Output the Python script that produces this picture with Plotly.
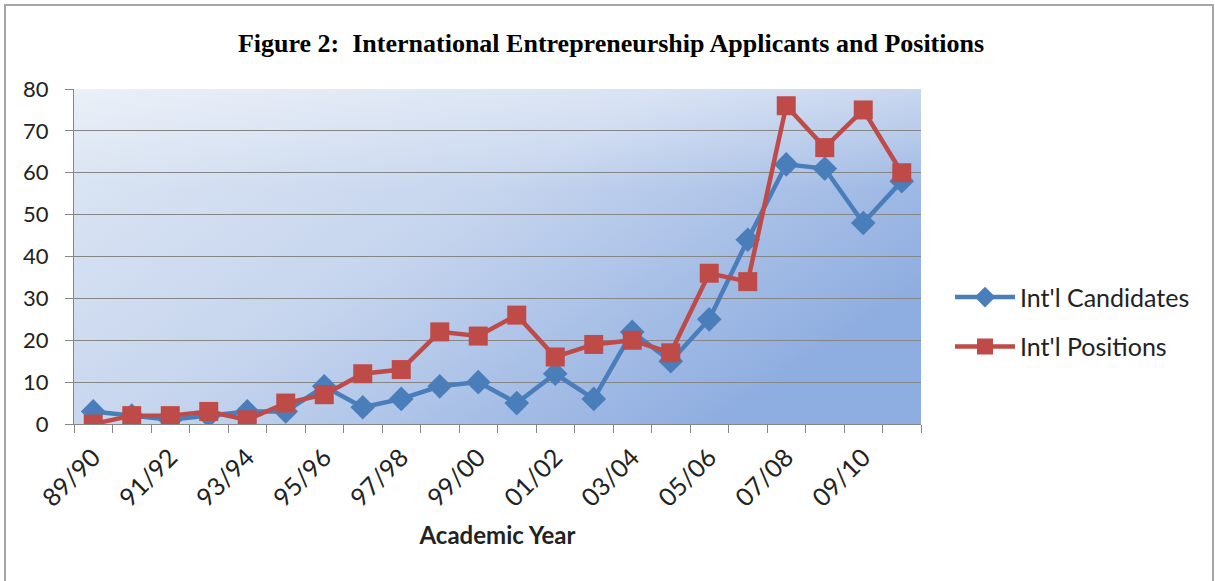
import base64
import plotly.graph_objects as go

years = ["89/90", "90/91", "91/92", "92/93", "93/94", "94/95", "95/96", "96/97",
         "97/98", "98/99", "99/00", "00/01", "01/02", "02/03", "03/04", "04/05",
         "05/06", "06/07", "07/08", "08/09", "09/10", "10/11"]
candidates = [3, 2, 1, 2, 3, 3, 9, 4, 6, 9, 10, 5, 12, 6, 22, 15, 25, 44, 62, 61, 48, 58]
positions = [0, 2, 2, 3, 1, 5, 7, 12, 13, 22, 21, 26, 16, 19, 20, 17, 36, 34, 76, 66, 75, 60]
y_ticks = [0, 10, 20, 30, 40, 50, 60, 70, 80]

W, H = 1215, 581
L, R, T, B = 74, 294, 89, 157
pw, ph = W - L - R, H - T - B

idx = list(range(len(years)))
shown = idx[::2]

svg = (
    '<svg xmlns="http://www.w3.org/2000/svg" width="100" height="100" viewBox="0 0 100 100" preserveAspectRatio="none">'
    '<defs>'
    '<linearGradient id="g" x1="0" y1="0" x2="1" y2="0.6">'
    '<stop offset="0" stop-color="#dfe8f4"/>'
    '<stop offset="0.5" stop-color="#c6d5ee"/>'
    '<stop offset="1" stop-color="#8eade0"/>'
    '</linearGradient>'
    '<linearGradient id="h" x1="0" y1="1" x2="0" y2="0">'
    '<stop offset="0" stop-color="#ffffff" stop-opacity="0"/>'
    '<stop offset="0.7" stop-color="#ffffff" stop-opacity="0"/>'
    '<stop offset="1" stop-color="#ffffff" stop-opacity="0.35"/>'
    '</linearGradient>'
    '</defs>'
    '<rect x="0" y="0" width="100" height="100" fill="url(#g)"/>'
    '<rect x="0" y="0" width="100" height="100" fill="url(#h)"/>'
    '</svg>'
)
svg_uri = "data:image/svg+xml;base64," + base64.b64encode(svg.encode()).decode()

fig = go.Figure()
fig.add_trace(go.Scatter(
    x=idx, y=candidates, name="Int'l Candidates", mode="lines+markers",
    line=dict(color="#4a7ebb", width=4.5),
    marker=dict(symbol="diamond", size=19, color="#4a7ebb"),
    legendgroup="a",
))
fig.add_trace(go.Scatter(
    x=idx, y=positions, name="Int'l Positions", mode="lines+markers",
    line=dict(color="#be4b48", width=4.5),
    marker=dict(symbol="square", size=19, color="#be4b48"),
    legendgroup="b",
))

fig.update_layout(
    width=W, height=H,
    margin=dict(l=L, r=R, t=T, b=B),
    paper_bgcolor="white",
    plot_bgcolor="rgba(0,0,0,0)",
    showlegend=True,
    title=dict(
        text="<b>Figure 2:  International Entrepreneurship Applicants and Positions</b>",
        font=dict(family="Liberation Serif", size=26, color="black"),
        x=(611 - L) / pw, xref="paper", xanchor="center", y=1 - 43 / H, yanchor="middle",
    ),
    legend=dict(
        x=(950 - L) / pw, xanchor="left", y=0.305, yanchor="middle",
        font=dict(family="Lato", size=25, color="#222222"),
        bgcolor="rgba(0,0,0,0)", tracegroupgap=14, traceorder="grouped",
        itemwidth=60,
    ),
    xaxis=dict(
        range=[-0.5, len(years) - 0.5],
        tickmode="array", tickvals=shown, ticktext=[years[i] for i in shown],
        tickangle=-45, ticks="", showgrid=False, zeroline=False,
        showline=True, linecolor="#868686", linewidth=1,
        ticklabelstandoff=8,
        tickfont=dict(family="Lato", size=25, color="#222222"),
        minor=dict(tick0=-0.5, dtick=1, ticks="outside", ticklen=8,
                   tickcolor="#868686", showgrid=False),
        title=dict(text="<b>Academic Year</b>",
                   font=dict(family="Lato", size=24, color="#222222"), standoff=16),
    ),
    yaxis=dict(
        range=[0, 80], tickmode="array", tickvals=y_ticks,
        ticks="outside", ticklen=8, tickcolor="#868686",
        showgrid=True, gridcolor="#868686", gridwidth=1, zeroline=False,
        showline=True, linecolor="#868686", linewidth=1,
        ticklabelstandoff=12,
        tickfont=dict(family="Lato", size=22, color="#222222"),
    ),
    images=[dict(source=svg_uri, xref="paper", yref="paper", x=0, y=1,
                 sizex=1, sizey=1, sizing="stretch", layer="below",
                 xanchor="left", yanchor="top")],
    shapes=[dict(type="rect", xref="paper", yref="paper",
                 x0=(5 - L) / pw, x1=(1213 - L) / pw,
                 y0=(H - B - 585) / ph, y1=(H - B - 5) / ph,
                 line=dict(color="#a6a6a6", width=2), fillcolor="rgba(0,0,0,0)")],
)

fig.write_html("out.html")
